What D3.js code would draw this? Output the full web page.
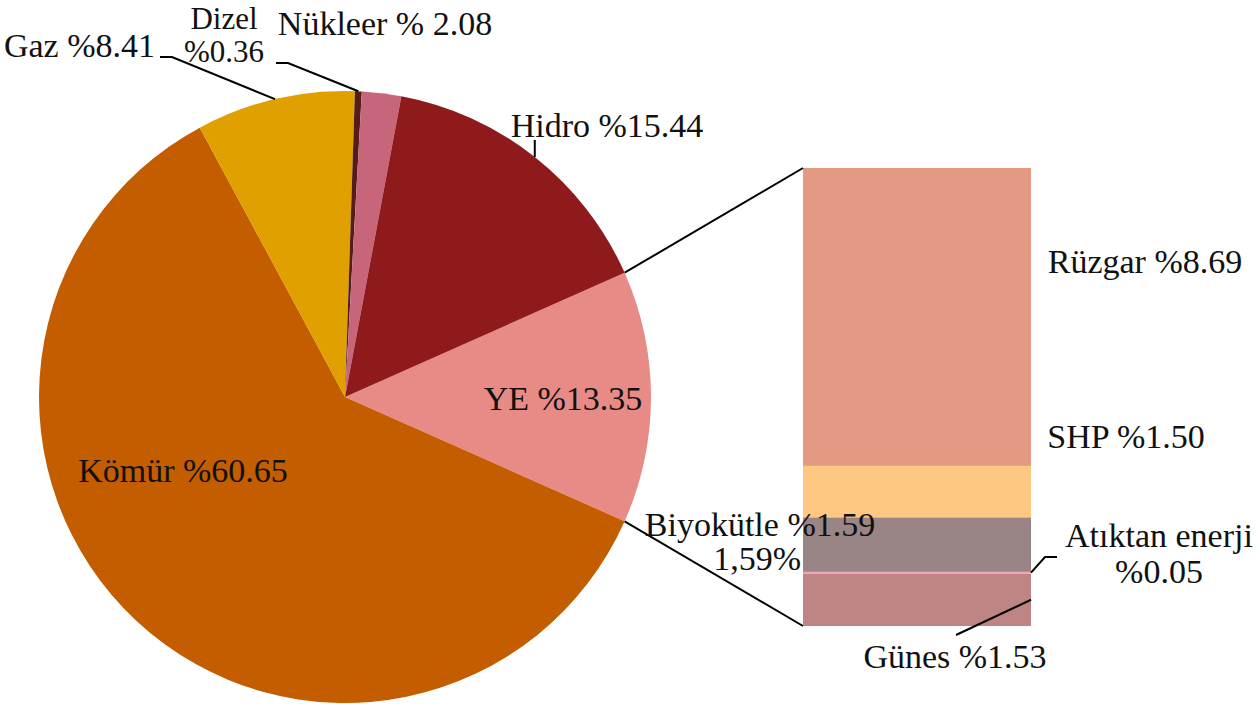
<!DOCTYPE html>
<html>
	<head>
		<meta charset="utf-8">
		<title>Elektrik üretimi - kaynaklar</title>
		<script src="https://cdn.jsdelivr.net/npm/d3@7"></script>
		<style>
			html, body { margin: 0; background: #fff; overflow: hidden; }
			svg text { font-family: "Liberation Serif", "DejaVu Serif", serif; font-size: 34px; fill: #111; }
			svg text.tight { font-size: 31px; }
			.leader { stroke: #000; stroke-width: 2; fill: none; }
		</style>
	</head>
	<body>
		<svg id="chart" width="1259" height="704"></svg>
		<script>
			// pie: main sources (YE is split out into the bar)
			let pieNames  = ["YE", "Kömür", "Gaz", "Dizel", "Nükleer", "Hidro"];
			let pieValues = [13.35, 60.65, 8.41, 0.36, 2.08, 15.44];
			let pieColors = ["#E88A85", "#C45C00", "#E0A000", "#561C1A", "#C7667A", "#8E1A1C"];

			// bar: renewable breakdown, bottom to top
			let barNames  = ["Güneş", "Atıktan enerji", "Biyokütle", "SHP", "Rüzgar"];
			let barValues = [1.53, 0.05, 1.59, 1.50, 8.69];
			let barColors = ["#BF8585", "#EBA3AA", "#998585", "#FFC882", "#E29A83"];

			let svg = d3.select("#chart");

			let cx = 345, cy = 397, radius = 306;
			let total = d3.sum(pieValues);
			let yeAngle = pieValues[0] / total * 2 * Math.PI;

			let pie = d3.pie()
				.sort(null)
				.startAngle(Math.PI / 2 - yeAngle / 2)
				.endAngle(Math.PI / 2 - yeAngle / 2 + 2 * Math.PI);

			let arcs = pie(pieValues);
			let arc = d3.arc().innerRadius(0).outerRadius(radius);

			let gPie = svg.append("g").attr("transform", `translate(${cx},${cy})`);
			gPie.selectAll("path")
				.data(arcs)
				.join("path")
				.attr("d", arc)
				.attr("fill", (d, i) => pieColors[i]);

			// point on the rim at a given d3 angle
			function rim(a)
			{
				return [cx + radius * Math.sin(a), cy - radius * Math.cos(a)];
			}
			function mid(d) { return (d.startAngle + d.endAngle) / 2; }

			// bar of the split-out slice
			let barX = 803, barW = 228;
			let y = d3.scaleLinear().domain([0, d3.sum(barValues)]).range([626, 168]);
			let stacked = d3.cumsum(barValues);
			let barData = barValues.map((v, i) => ({ name: barNames[i], y0: stacked[i] - v, y1: stacked[i] }));

			svg.append("g").selectAll("rect")
				.data(barData)
				.join("rect")
				.attr("x", barX)
				.attr("width", barW)
				.attr("y", d => y(d.y1))
				.attr("height", d => Math.max(1.3, y(d.y0) - y(d.y1)))
				.attr("fill", (d, i) => barColors[i]);

			// connector lines pie -> bar
			let ye = arcs[0];
			let line = d3.line();
			svg.append("path").attr("class", "leader")
				.attr("d", line([rim(ye.startAngle), [barX, y(d3.sum(barValues))]]));
			svg.append("path").attr("class", "leader")
				.attr("d", line([rim(ye.endAngle), [barX, y(0)]]));

			// leader lines
			let gazPt = rim(mid(arcs[2]));
			svg.append("path").attr("class", "leader")
				.attr("d", line([[160, 57], [172, 57], gazPt]));
			let dizPt = rim(mid(arcs[3]));
			svg.append("path").attr("class", "leader")
				.attr("d", line([[276, 63], [288, 63], dizPt]));
			let hidPt = rim(mid(arcs[5]));
			svg.append("path").attr("class", "leader")
				.attr("d", line([[hidPt[0], 140], hidPt]));

			let atik = barData[1], gunes = barData[0];
			svg.append("path").attr("class", "leader")
				.attr("d", line([[barX + barW, y((atik.y0 + atik.y1) / 2)], [1045, 557], [1057, 557]]));
			svg.append("path").attr("class", "leader")
				.attr("d", line([[barX + barW, y((gunes.y0 + gunes.y1) / 2)], [956, 635]]));

			// labels
			let labels = [
				{ t: "Kömür %60.65", x: 183, y: 482, a: "middle" },
				{ t: "YE %13.35", x: 563, y: 410, a: "middle" },
				{ t: "Hidro %15.44", x: 607, y: 137, a: "middle" },
				{ t: "Nükleer % 2.08", x: 385, y: 35, a: "middle" },
				{ t: "Dizel", x: 224, y: 29, a: "middle", c: "tight" },
				{ t: "%0.36", x: 224, y: 62, a: "middle", c: "tight" },
				{ t: "Gaz %8.41", x: 155, y: 57, a: "end" },
				{ t: "Rüzgar %8.69", x: 1145, y: 273, a: "middle" },
				{ t: "SHP %1.50", x: 1126, y: 448, a: "middle" },
				{ t: "Biyokütle %1.59", x: 760, y: 536, a: "middle" },
				{ t: "1,59%", x: 801, y: 570, a: "end" },
				{ t: "Atıktan enerji", x: 1159, y: 547, a: "middle" },
				{ t: "%0.05", x: 1159, y: 583, a: "middle" },
				{ t: "Günes %1.53", x: 955, y: 668, a: "middle" }
			];

			svg.append("g").selectAll("text")
				.data(labels)
				.join("text")
				.attr("class", d => d.c || null)
				.attr("x", d => d.x)
				.attr("y", d => d.y)
				.attr("text-anchor", d => d.a)
				.text(d => d.t);
		</script>
	</body>
</html>
